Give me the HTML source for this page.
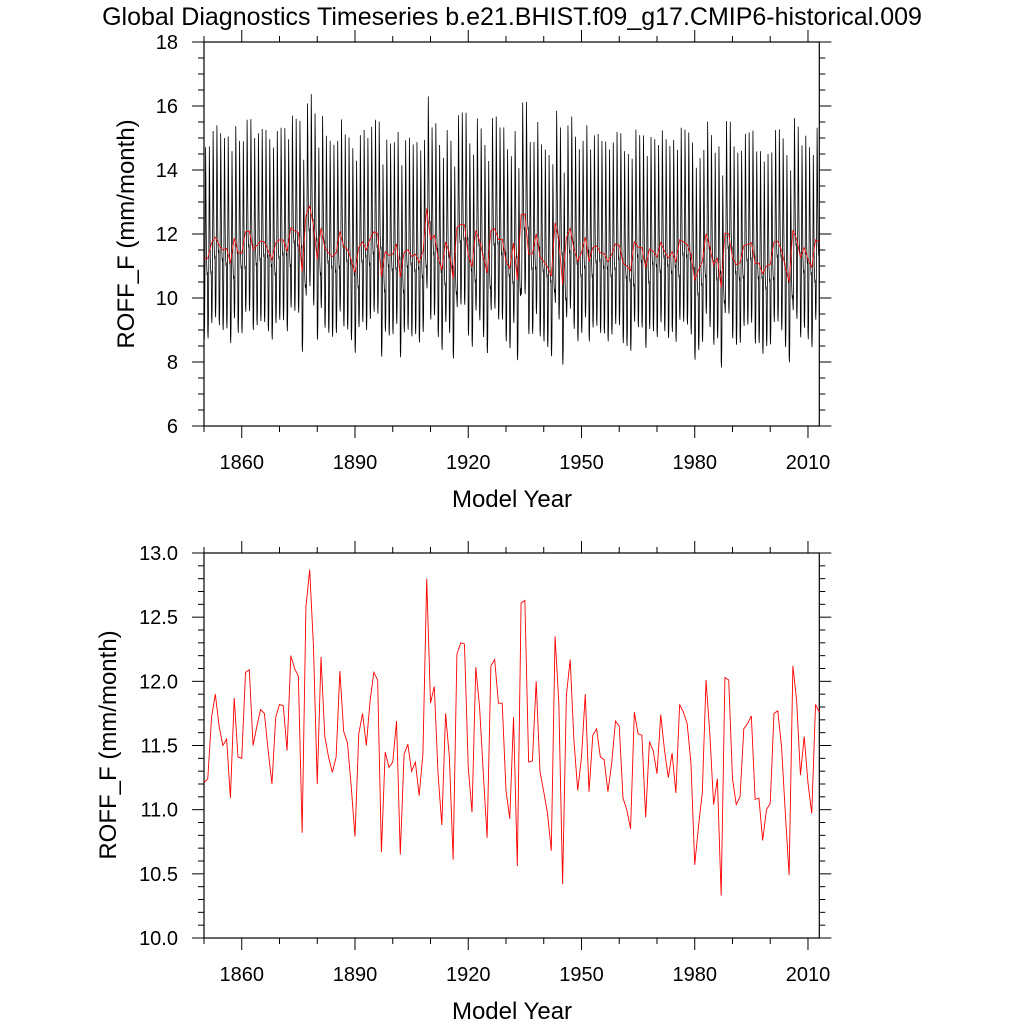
<!DOCTYPE html>
<html><head><meta charset="utf-8"><style>
html,body{margin:0;padding:0;background:#fff;}
svg{display:block;font-family:"Liberation Sans",Arial,sans-serif;}
</style></head><body>
<svg id="c" width="1024" height="1024" viewBox="0 0 1024 1024">
<text x="512" y="25" font-size="25" text-anchor="middle">Global Diagnostics Timeseries b.e21.BHIST.f09_g17.CMIP6-historical.009</text>
<g id="top"></g>
<g id="bot"></g>
</svg>
<script>
const startYear = 1850;
const annualValues = [11.21,11.24,11.72,11.90,11.65,11.50,11.55,11.09,11.87,11.41,11.40,12.07,12.09,11.50,11.65,11.78,11.75,11.46,11.20,11.72,11.82,11.81,11.46,12.20,12.10,12.04,10.82,12.58,12.87,12.27,11.20,12.19,11.57,11.41,11.29,11.41,12.08,11.61,11.52,11.18,10.79,11.59,11.75,11.50,11.85,12.07,12.01,10.67,11.45,11.33,11.37,11.69,10.65,11.43,11.51,11.30,11.37,11.11,11.44,12.80,11.83,11.96,11.28,10.88,11.75,11.41,10.61,12.21,12.30,12.29,11.33,10.98,12.11,11.80,11.28,10.78,12.12,12.17,11.83,11.83,11.15,10.93,11.72,10.56,12.61,12.63,11.37,11.38,12.00,11.30,11.14,10.97,10.68,12.35,11.83,10.42,11.89,12.17,11.54,11.15,11.41,11.90,11.14,11.58,11.63,11.41,11.39,11.14,11.36,11.69,11.65,11.09,11.00,10.85,11.76,11.59,11.58,10.94,11.53,11.46,11.28,11.74,11.46,11.25,11.44,11.13,11.82,11.76,11.67,11.36,10.57,10.87,11.13,12.01,11.59,11.04,11.24,10.33,12.03,12.01,11.24,11.04,11.10,11.63,11.67,11.73,11.08,11.09,10.76,11.00,11.05,11.75,11.77,11.49,10.97,10.49,12.12,11.85,11.27,11.57,11.21,10.97,11.82,11.76];
const monthlyClimAnomaly = [-2.3,-2.5,-2.0,-0.5,1.5,3.5,2.5,1.0,0.0,-0.3,-0.5,-0.4];
const xTickLabels = [1860,1890,1920,1950,1980,2010];
const topYTicks = [6,8,10,12,14,16,18];
const botYTicks = ["10.0","10.5","11.0","11.5","12.0","12.5","13.0"];

const NS="http://www.w3.org/2000/svg";
function mk(tag,attrs,parent){const e=document.createElementNS(NS,tag);for(const k in attrs)e.setAttribute(k,attrs[k]);parent.appendChild(e);return e;}
const X0=204,X1=819.3,xMin=1850,xMax=2013;
function xs(v){return X0+(v-xMin)/(xMax-xMin)*(X1-X0);}

function panel(g,top,bottom,yMin,yMax,yMajor,yMinor,yLabels,labelX,titleX,titleY){
  const ys=v=>bottom-(v-yMin)/(yMax-yMin)*(bottom-top);
  const fr=mk('rect',{x:X0,y:top,width:X1-X0,height:bottom-top,fill:'none',stroke:'#000','stroke-width':1.2},g);
  
  
  for(let yr=1850;yr<=2013;yr+=10){
    const major=(yr-1860)%30===0; const L=major?12:6; const x=xs(yr);
    const t1=mk('line',{x1:x,x2:x,y1:bottom,y2:bottom+L,stroke:'#000'},g);
    
    
    const t2=mk('line',{x1:x,x2:x,y1:top,y2:top-L,stroke:'#000'},g);
    
    
  }
  xTickLabels.forEach(yr=>{
    const t=mk('text',{x:xs(yr),y:bottom+43,'font-size':20,'text-anchor':'middle'},g);t.textContent=yr;
    
    
  });
  for(let v=yMin;v<=yMax+1e-6;v+=yMinor){
    const major=Math.abs(Math.round(v/yMajor)*yMajor-v)<1e-6; const L=major?12:6; const y=ys(v);
    const a=mk('line',{x1:X0,x2:X0-L,y1:y,y2:y,stroke:'#000'},g);
    
    
    const b=mk('line',{x1:X1,x2:X1+L,y1:y,y2:y,stroke:'#000'},g);
    
    
  }
  yLabels.forEach(lbl=>{
    const t=mk('text',{x:labelX,y:ys(parseFloat(lbl))+7,'font-size':20,'text-anchor':'end'},g);t.textContent=lbl;
    
    
  });
  const xt=mk('text',{x:512,y:bottom+81,'font-size':24,'text-anchor':'middle'},g);xt.textContent='Model Year';
  
  
  const yt=mk('text',{x:titleX,y:titleY,'font-size':24,'text-anchor':'middle',transform:`rotate(-90 ${titleX} ${titleY})`},g);yt.textContent='ROFF_F (mm/month)';
  
  
  return ys;
}
const gt=document.getElementById('top'),gb=document.getElementById('bot');
const ysT=panel(gt,42,426,6,18,2,0.5,topYTicks.map(String),178,134,234);
const ysB=panel(gb,553,938,10,13,0.5,0.1,botYTicks,178,116,745);

let dm='';
annualValues.forEach((a,i)=>{monthlyClimAnomaly.forEach((m,j)=>{
  const yr=startYear+i+j/12; if(yr>xMax) return;
  dm+=(dm?'L':'M')+xs(yr).toFixed(2)+','+ysT(a+m).toFixed(2);
});});
const pm=mk('path',{d:dm,fill:'none',stroke:'#000','stroke-width':0.8},gt);


function annualPath(ys){return annualValues.map((v,i)=>(i?'L':'M')+xs(startYear+i).toFixed(2)+','+ys(v).toFixed(2)).join('');}
const pa=mk('path',{d:annualPath(ysT),fill:'none',stroke:'#ff0000','stroke-width':0.8},gt);


const pb=mk('path',{d:annualPath(ysB),fill:'none',stroke:'#ff0000','stroke-width':0.9},gb);


</script>
</body></html>
